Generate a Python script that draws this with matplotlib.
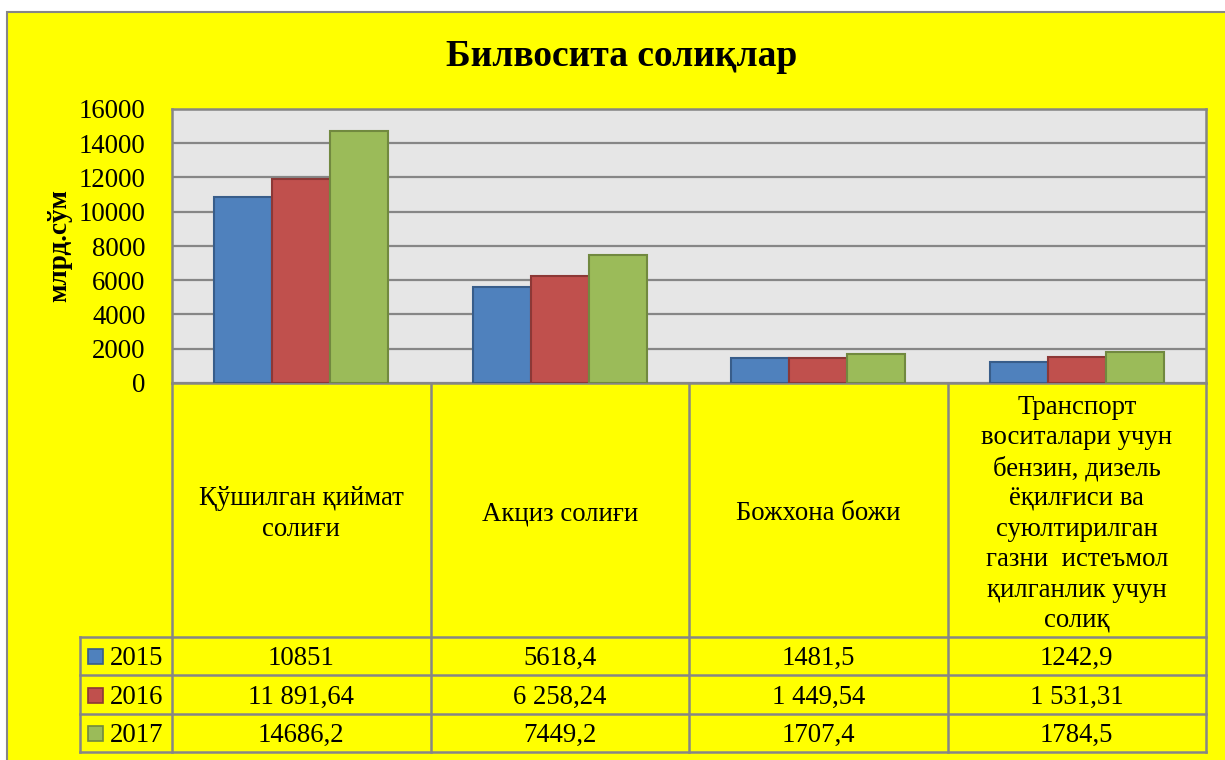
import matplotlib
matplotlib.use("Agg")
import matplotlib.pyplot as plt
import matplotlib.transforms as mtransforms
from matplotlib.patches import Rectangle
from matplotlib.lines import Line2D

categories = ["Қўшилган қиймат\nсолиғи", "Акциз солиғи", "Божхона божи",
              "Транспорт\nвоситалари учун\nбензин, дизель\nёқилғиси ва\nсуюлтирилган\nгазни  истеъмол\nқилганлик учун\nсолиқ"]
years = ["2015", "2016", "2017"]
v2015 = [10851, 5618.4, 1481.5, 1242.9]
v2016 = [11891.64, 6258.24, 1449.54, 1531.31]
v2017 = [14686.2, 7449.2, 1707.4, 1784.5]
t2015 = ["10851", "5618,4", "1481,5", "1242,9"]
t2016 = ["11 891,64", "6 258,24", "1 449,54", "1 531,31"]
t2017 = ["14686,2", "7449,2", "1707,4", "1784,5"]
yticks = [0, 2000, 4000, 6000, 8000, 10000, 12000, 14000, 16000]
title = "Билвосита солиқлар"
ylabel = "млрд.сўм"

series = [v2015, v2016, v2017]
texts = [t2015, t2016, t2017]
colors = ["#4F81BD", "#C0504D", "#9BBB59"]
edges = ["#385D8A", "#8C3836", "#71893F"]

plt.rcParams['font.family'] = ['Liberation Serif', 'DejaVu Serif']

W, H = 1225, 760
fig = plt.figure(figsize=(W / 100, H / 100), dpi=100)
fig.patch.set_facecolor("white")

def fx(x):
    return x / W

def fy(y):
    return 1 - y / H

FS = 19.3

# yellow chart area with gray border
fig.patches.append(Rectangle((fx(7), fy(780)), fx(1240 - 7), (780 - 12) / H,
                             transform=fig.transFigure, facecolor="#FFFF00",
                             edgecolor="#868686", linewidth=1.5, zorder=-10))

ax = fig.add_axes([fx(172), fy(383), fx(1206 - 172), (383 - 109) / H])
ax.set_zorder(2)
ax.set_facecolor("#E6E6E6")
ax.set_xlim(0, 4)
ax.set_ylim(0, 16000)
ax.set_yticks(yticks)
ax.set_yticklabels([str(t) for t in yticks], fontsize=FS)
ax.tick_params(axis="y", length=0, pad=19)
ax.set_xticks([])
for s in ax.spines.values():
    s.set_color("#868686")
    s.set_linewidth(1.8)
ax.yaxis.grid(True, color="#868686", linewidth=1.6)
ax.set_axisbelow(True)

bw = 0.224
for j, (vals, c, e) in enumerate(zip(series, colors, edges)):
    xs = [i + 0.5 + (j - 1) * bw for i in range(len(vals))]
    ax.bar(xs, vals, width=bw, color=c, edgecolor=e, linewidth=1.5, zorder=3)

fig.text(fx(622), fy(57), title, ha="center", va="center", fontsize=27, fontweight="bold")
fig.text(fx(60), fy(246), ylabel, ha="center", va="center", rotation=90,
         fontsize=19.5, fontweight="bold")

# data table
bt = mtransforms.blended_transform_factory(ax.transData, fig.transFigure)
gray = "#868686"
lw = 1.8
row_edges = [637, 675, 714, 752]
for x in range(5):
    fig.lines.append(Line2D([x, x], [fy(383), fy(752)], transform=bt, color=gray, lw=lw))
fig.lines.append(Line2D([fx(80), fx(80)], [fy(637), fy(752)], transform=fig.transFigure, color=gray, lw=lw))
for y in row_edges:
    fig.lines.append(Line2D([fx(80), fx(1206)], [fy(y), fy(y)], transform=fig.transFigure, color=gray, lw=lw))

for i, cat in enumerate(categories):
    fig.text(i + 0.5, fy(514), cat, transform=bt, ha="center", va="center",
             fontsize=FS, linespacing=1.28)

for r in range(3):
    yc = (row_edges[r] + row_edges[r + 1]) / 2
    fig.patches.append(Rectangle((fx(88), fy(yc + 8)), fx(15), 15 / H, transform=fig.transFigure,
                                 facecolor=colors[r], edgecolor=edges[r], linewidth=1.2))
    fig.text(fx(110), fy(yc + 2.5), years[r], ha="left", va="center", fontsize=FS)
    for i in range(4):
        fig.text(i + 0.5, fy(yc + 2.5), texts[r][i], transform=bt, ha="center", va="center", fontsize=FS)

fig.savefig("out.png", dpi=100, facecolor=fig.get_facecolor())
